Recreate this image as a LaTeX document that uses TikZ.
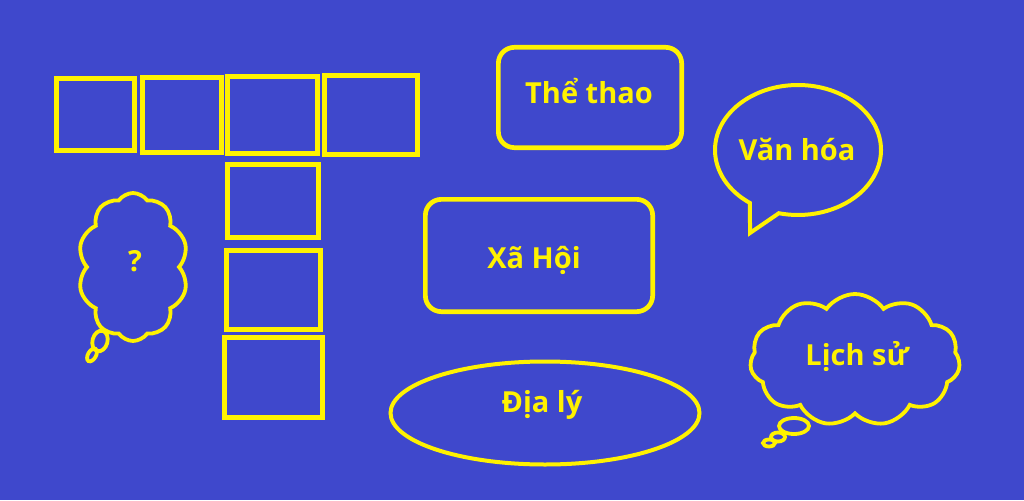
\documentclass[tikz,border=0pt]{standalone}
\usepackage{fontspec}
\setmainfont{Open Sans}
\usepackage{tikz}
\usetikzlibrary{shapes.geometric,shapes.symbols,shapes.callouts}
\definecolor{paintblue}{RGB}{63,72,204}
\definecolor{paintyellow}{RGB}{255,242,0}

\begin{document}
\begin{tikzpicture}[x=1pt,y=-1pt,
	cell/.style={rectangle,draw,line width=4.7pt,inner sep=0pt,outer sep=0pt},
	topic/.style={draw,line width=4pt,inner sep=0pt},
	lbl/.style={draw=none,anchor=base,inner sep=0pt,text=paintyellow,font=\fontsize{29}{33}\selectfont\bfseries},
	puff/.style={draw=paintyellow,line width=3.8pt}]
	\fill[paintblue] (0,0) rectangle (1024,500);
	\useasboundingbox (0,0) rectangle (1024,500);
	\begin{scope}[every node/.style={draw=paintyellow}]
		% the T-shaped grid
		\node[cell,minimum width=78.3pt,minimum height=72.3pt] (c1) at (95.5,114.5) {};
		\node[cell,minimum width=79.3pt,minimum height=75.3pt] (c2) at (182,115) {};
		\node[cell,minimum width=90.3pt,minimum height=77.3pt] (c3) at (272.5,115) {};
		\node[cell,minimum width=93.3pt,minimum height=79.3pt] (c4) at (371,115) {};
		\node[cell,minimum width=91.3pt,minimum height=73.3pt] (c5) at (273,201) {};
		\node[cell,minimum width=94.3pt,minimum height=79.3pt] (c6) at (273.5,290) {};
		\node[cell,minimum width=98.3pt,minimum height=80.3pt] (c7) at (273.5,377.5) {};

		\node[topic,rectangle,rounded corners=16pt,line width=4.7pt,minimum width=183.3pt,minimum height=100.3pt] (thethao) at (590,97.5) {};
		\node[topic,rectangle,rounded corners=16pt,line width=4.7pt,minimum width=227.3pt,minimum height=112.3pt] (xahoi) at (539,255.5) {};
		\node[topic,ellipse,minimum width=309pt,minimum height=103pt] (dialy) at (545,413) {};

		\coordinate (vhtip) at (750,233);
		\node[topic,ellipse callout,callout absolute pointer={(vhtip)},callout pointer arc=22,minimum width=166pt,minimum height=130pt] (vanhoa) at (798,150) {};

		\node[topic,cloud,cloud puffs=11,cloud puff arc=110,cloud ignores aspect,line width=3.8pt,minimum width=210pt,minimum height=132pt] (lichsu) at (855,360) {};
		\node[topic,cloud,cloud puffs=10,cloud puff arc=110,cloud ignores aspect,line width=3.8pt,minimum width=110pt,minimum height=148pt] (hoi) at (133,267) {};

		% texts, placed on their baselines
		\node[lbl] (thethao-t) at (589,103) {Thể thao};
		\node[lbl] (xahoi-t) at (534,268) {Xã Hội};
		\node[lbl] (dialy-t) at (542,412) {Địa lý};
		\node[lbl] (vanhoa-t) at (797,160) {Văn hóa};
		\node[lbl] (lichsu-t) at (857,365) {Lịch sử};
		\node[lbl] (hoi-t) at (135,271) {?};
	\end{scope}
	% little bubbles under the clouds
	\draw[puff] (794,426) ellipse [x radius=15pt,y radius=8pt];
	\draw[puff] (778,437) ellipse [x radius=7pt,y radius=4.5pt];
	\draw[puff] (769,443) ellipse [x radius=6pt,y radius=3.5pt];
	\draw[puff,rotate around={-15:(100,341)}] (100,341) ellipse [x radius=7.5pt,y radius=10.5pt];
	\draw[puff,rotate around={-30:(92,355)}] (92,355) ellipse [x radius=4pt,y radius=7pt];
\end{tikzpicture}
\end{document}
